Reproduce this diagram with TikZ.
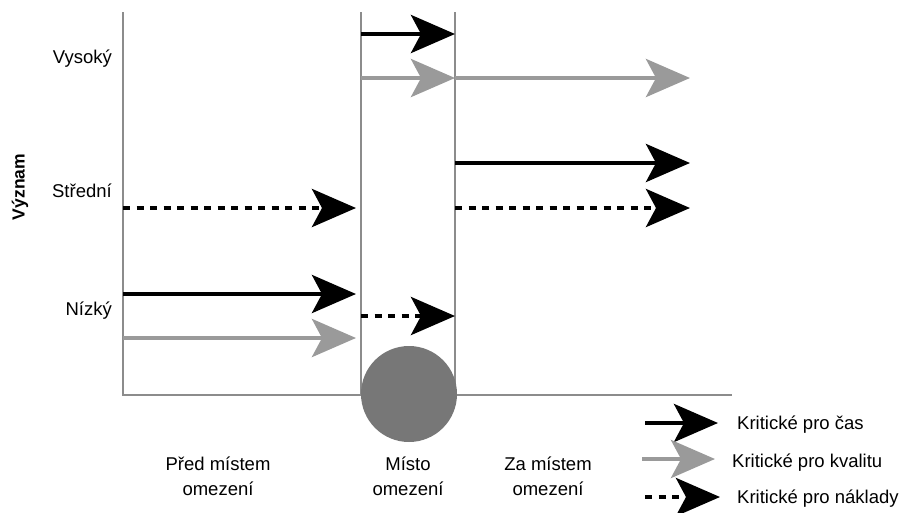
\documentclass[tikz,border=0pt]{standalone}
\usepackage{fontspec}
\setmainfont{Liberation Sans}
\usetikzlibrary{arrows.meta}
\definecolor{axisgray}{HTML}{8C8C8C}
\definecolor{qualgray}{HTML}{9A9A9A}
\definecolor{discgray}{HTML}{777777}
\begin{document}
\begin{tikzpicture}[x=1pt,y=-1pt,
  big/.style={-{Stealth[length=44pt,width=38pt,inset=10pt]}},
  timearrow/.style={big,line width=4.5pt,black},
  qualarrow/.style={big,line width=4.5pt,qualgray},
  costarrow/.style={big,line width=4.5pt,black,dash pattern=on 7pt off 6.5pt},
  axisline/.style={line width=2pt,axisgray},
  lbl/.style={font=\fontsize{18.5}{25}\selectfont,inner sep=0pt},
]
\useasboundingbox (0,0) rectangle (904,512);

% axes and column borders
\coordinate (ytop) at (123,12);
\coordinate (origin) at (123,395);
\coordinate (xend) at (732,395);
\coordinate (c1top) at (361,12);
\coordinate (c1bot) at (361,395);
\coordinate (c2top) at (455,12);
\coordinate (c2bot) at (455,395);
\draw[axisline] (ytop) -- (origin) -- (xend);
\draw[axisline] (c1top) -- (c1bot);
\draw[axisline] (c2top) -- (c2bot);

% constraint disc
\fill[discgray] (409,394) circle (48pt);

% level labels
\node[lbl,anchor=base east] (high) at (112,63) {Vysoký};
\node[lbl,anchor=base east] (mid) at (112,197) {Střední};
\node[lbl,anchor=base east] (low) at (112,315) {Nízký};
\node[lbl,font=\fontsize{17.5}{20}\selectfont\bfseries,rotate=90] (yl) at (20,187) {Význam};

% section labels
\node[lbl,align=center] (before) at (218,476) {Před místem\\omezení};
\node[lbl,align=center] (place) at (408,476) {Místo\\omezení};
\node[lbl,align=center] (after) at (548,476) {Za místem\\omezení};

% arrow end points
\coordinate (a1s) at (361,34);  \coordinate (a1e) at (455,34);
\coordinate (a2s) at (361,78);  \coordinate (a2e) at (455,78);
\coordinate (a3s) at (455,78);  \coordinate (a3e) at (690,78);
\coordinate (a4s) at (455,163); \coordinate (a4e) at (690,163);
\coordinate (a5s) at (455,208); \coordinate (a5e) at (690,208);
\coordinate (b1s) at (123,208); \coordinate (b1e) at (356,208);
\coordinate (b2s) at (123,294); \coordinate (b2e) at (356,294);
\coordinate (b3s) at (123,338); \coordinate (b3e) at (356,338);
\coordinate (m1s) at (361,316); \coordinate (m1e) at (455,316);

\draw[timearrow] (a1s) -- (a1e);
\draw[qualarrow] (a2s) -- (a2e);
\draw[qualarrow] (a3s) -- (a3e);
\draw[timearrow] (a4s) -- (a4e);
\draw[costarrow] (a5s) -- (a5e);
\draw[costarrow] (b1s) -- (b1e);
\draw[timearrow] (b2s) -- (b2e);
\draw[qualarrow] (b3s) -- (b3e);
\draw[costarrow] (m1s) -- (m1e);

% legend
\coordinate (l1s) at (645,423); \coordinate (l1e) at (718,423);
\coordinate (l2s) at (642,459); \coordinate (l2e) at (715,459);
\coordinate (l3s) at (645,497); \coordinate (l3e) at (720,497);
\draw[timearrow] (l1s) -- (l1e);
\draw[qualarrow] (l2s) -- (l2e);
\draw[costarrow] (l3s) -- (l3e);
\node[lbl,anchor=base west] (k1) at (737,429) {Kritické pro čas};
\node[lbl,anchor=base west] (k2) at (732,467) {Kritické pro kvalitu};
\node[lbl,anchor=base west] (k3) at (737,503) {Kritické pro náklady};
\end{tikzpicture}
\end{document}
